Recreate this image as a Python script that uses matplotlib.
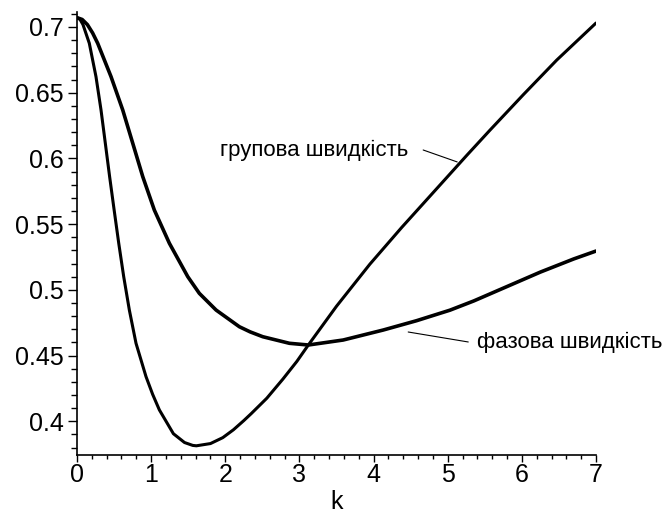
import matplotlib
matplotlib.use("Agg")
import matplotlib.pyplot as plt
from matplotlib.ticker import FixedLocator, MultipleLocator

# ---- data ----
k_group = [0.0, 0.04, 0.08, 0.166, 0.256, 0.324, 0.382, 0.44, 0.501, 0.563, 0.630,
           0.706, 0.796, 0.931, 1.02, 1.111, 1.30, 1.45, 1.561, 1.61, 1.80, 1.966,
           2.11, 2.25, 2.35, 2.56, 2.776, 2.965, 3.12, 3.50, 3.95, 4.38, 4.90, 5.26,
           5.57, 6.02, 6.47, 7.0]
v_group = [0.7071, 0.7058, 0.7019, 0.6876, 0.6622, 0.6368, 0.6115, 0.5861, 0.5607,
           0.5354, 0.5100, 0.4846, 0.4593, 0.4339, 0.4205, 0.4086, 0.3905, 0.3838,
           0.3816, 0.3813, 0.3830, 0.3875, 0.3935, 0.4005, 0.4058, 0.4175, 0.4320,
           0.4455, 0.4580, 0.4875, 0.5195, 0.5475, 0.5800, 0.6025, 0.6215, 0.6485,
           0.6748, 0.7030]

k_phase = [0.0, 0.07, 0.14, 0.21, 0.279, 0.459, 0.617, 0.752, 0.887, 1.043, 1.246,
           1.494, 1.650, 1.876, 2.190, 2.335, 2.506, 2.865, 3.12, 3.59, 4.13, 4.58,
           5.03, 5.35, 5.80, 6.25, 6.70, 7.0]
v_phase = [0.7071, 0.7057, 0.7018, 0.6955, 0.6876, 0.6622, 0.6368, 0.6115, 0.5861,
           0.5607, 0.5354, 0.5100, 0.4973, 0.4846, 0.4719, 0.4680, 0.4643, 0.4593,
           0.4580, 0.4618, 0.4694, 0.4765, 0.4845, 0.4915, 0.5025, 0.5135, 0.5235,
           0.5295]

x_ticks = [0, 1, 2, 3, 4, 5, 6, 7]
x_tick_labels = ["0", "1", "2", "3", "4", "5", "6", "7"]
y_ticks = [0.4, 0.45, 0.5, 0.55, 0.6, 0.65, 0.7]
y_tick_labels = ["0.4", "0.45", "0.5", "0.55", "0.6", "0.65", "0.7"]

label_group = "групова швидкість"
label_phase = "фазова швидкість"

# annotation geometry (data coordinates)
group_leader = ((4.669, 0.6064), (5.128, 0.5973))
group_text_pos = (4.465, 0.6060)
phase_leader = ((4.467, 0.4679), (5.277, 0.4603))
phase_text_pos = (5.39, 0.4600)

plt.rcParams['font.family'] = ['Liberation Sans', 'DejaVu Sans']

fig = plt.figure(figsize=(6.64, 5.15), dpi=100)
ax = fig.add_axes([77 / 664, (515 - 455) / 515, (596 - 77) / 664, (455 - 12) / 515])

ax.plot(k_group, v_group, color='black', lw=2.2, solid_capstyle='round',
        solid_joinstyle='round')
ax.plot(k_phase, v_phase, color='black', lw=2.6, solid_capstyle='round',
        solid_joinstyle='round')

ax.set_xlim(0, 7)
ax.set_ylim(0.3743, 0.7114)

for s in ['top', 'right']:
    ax.spines[s].set_visible(False)
for s in ['left', 'bottom']:
    ax.spines[s].set_linewidth(1.2)

ax.xaxis.set_major_locator(FixedLocator(x_ticks))
ax.set_xticklabels(x_tick_labels)
ax.xaxis.set_minor_locator(MultipleLocator(0.2))
ax.yaxis.set_major_locator(FixedLocator(y_ticks))
ax.set_yticklabels(y_tick_labels)
ax.yaxis.set_minor_locator(MultipleLocator(0.01))

ax.tick_params(axis='x', which='major', length=5, width=1, labelsize=18, pad=1)
ax.tick_params(axis='x', which='minor', length=3, width=1)
ax.tick_params(axis='y', which='major', length=6.5, width=1, labelsize=18, pad=3)
ax.tick_params(axis='y', which='minor', length=4, width=1)

ax.set_xlabel("k", fontsize=18, labelpad=2)

# leaders
ax.annotate('', xy=group_leader[1], xytext=group_leader[0],
            arrowprops=dict(arrowstyle='-', lw=0.8, color='black', shrinkA=0, shrinkB=0))
ax.annotate('', xy=phase_leader[0], xytext=phase_leader[1],
            arrowprops=dict(arrowstyle='-', lw=0.8, color='black', shrinkA=0, shrinkB=0))

ax.text(group_text_pos[0], group_text_pos[1], label_group, fontsize=16,
        ha='right', va='center')
ax.text(phase_text_pos[0], phase_text_pos[1], label_phase, fontsize=16,
        ha='left', va='center', clip_on=False)

fig.savefig("out.png", dpi=100)
